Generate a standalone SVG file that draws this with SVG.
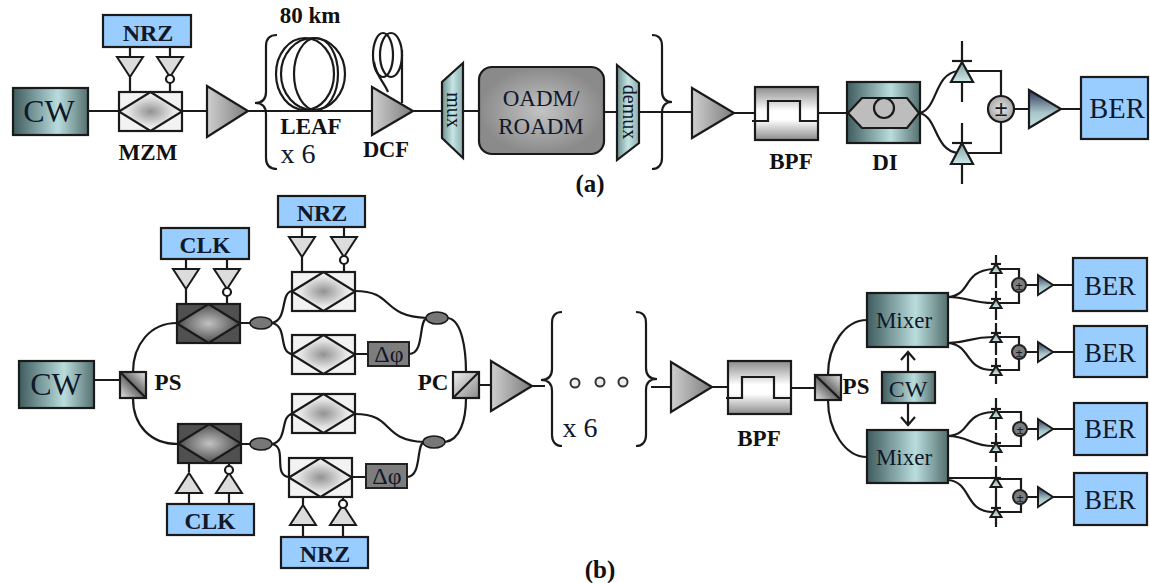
<svg xmlns="http://www.w3.org/2000/svg" xmlns:xlink="http://www.w3.org/1999/xlink" width="1150" height="583" viewBox="0 0 1150 583">
<style>
.s{stroke:#1a1a1a;stroke-width:2.2;fill:none}
.b{stroke:#1a1a1a;stroke-width:2.2}
.t{font-family:"Liberation Serif","Times New Roman",serif;fill:#10182a;text-anchor:middle}
.bd{font-weight:bold;fill:#111}
.blue{fill:#99ccff;stroke:#1a1a1a;stroke-width:2.2}
.drv{fill:#dcdcdc;stroke:#1a1a1a;stroke-width:2}
.cp{fill:#777;stroke:#1a1a1a;stroke-width:1.5}
.ph{fill:#7d7d7d;stroke:#222;stroke-width:2}
</style>
<defs>
<linearGradient id="gCw" x1="0" y1="0" x2="1" y2="0"><stop offset="0" stop-color="#3f5b5d"/><stop offset=".6" stop-color="#b9dddd"/><stop offset="1" stop-color="#55706f"/></linearGradient>
<radialGradient id="gMzm"><stop offset="0" stop-color="#929292"/><stop offset=".7" stop-color="#e4e4e4"/><stop offset="1" stop-color="#f6f6f6"/></radialGradient>
<radialGradient id="gDark"><stop offset="0" stop-color="#c2c2c2"/><stop offset=".75" stop-color="#6a6a6a"/><stop offset="1" stop-color="#484848"/></radialGradient>
<linearGradient id="gAmp" x1="0" y1="0" x2="1" y2="0"><stop offset="0" stop-color="#cfcfcf"/><stop offset="1" stop-color="#7c7c7c"/></linearGradient>
<linearGradient id="gBpf" x1="0" y1="0" x2="0" y2="1"><stop offset="0" stop-color="#8c8c8c"/><stop offset=".45" stop-color="#fff"/><stop offset=".62" stop-color="#fff"/><stop offset="1" stop-color="#8c8c8c"/></linearGradient>
<linearGradient id="gPs" x1="1" y1="0" x2="0" y2="1"><stop offset="0" stop-color="#e8e8e8"/><stop offset=".5" stop-color="#666"/><stop offset="1" stop-color="#e8e8e8"/></linearGradient>
<linearGradient id="gPc" x1="0" y1="0" x2="1" y2="1"><stop offset="0" stop-color="#f0f0f0"/><stop offset="1" stop-color="#8a8a8a"/></linearGradient>
<linearGradient id="gTeal" x1="0" y1="0" x2="1" y2="0"><stop offset="0" stop-color="#6e9090"/><stop offset=".5" stop-color="#c5e4e4"/><stop offset="1" stop-color="#8fb0b0"/></linearGradient>
<linearGradient id="gPd" x1="0" y1="0" x2="0" y2="1"><stop offset="0" stop-color="#7f9fa0"/><stop offset="1" stop-color="#cfe8e8"/></linearGradient>
<linearGradient id="gSmall" x1="0" y1="0" x2="0" y2="1"><stop offset="0" stop-color="#2a3358"/><stop offset=".6" stop-color="#a9c6ca"/><stop offset="1" stop-color="#c6e2e2"/></linearGradient>
<radialGradient id="gOadm"><stop offset="0" stop-color="#c4c4c4"/><stop offset="1" stop-color="#8a8a8a"/></radialGradient>
<radialGradient id="gSum"><stop offset="0" stop-color="#e4e4e4"/><stop offset="1" stop-color="#a8a8a8"/></radialGradient>
<g id="mz"><rect x="0" y="0" width="63" height="39" fill="#f2f2f2" stroke="#1a1a1a" stroke-width="2.2"/><polygon points="0,19.5 31.5,0 63,19.5 31.5,39" fill="url(#gMzm)" stroke="#1a1a1a" stroke-width="2.2"/></g>
<g id="mzd"><rect x="0" y="0" width="63" height="39" fill="#505050" stroke="#1a1a1a" stroke-width="2.2"/><polygon points="0,19.5 31.5,0 63,19.5 31.5,39" fill="url(#gDark)" stroke="#1a1a1a" stroke-width="2.2"/></g>
<polygon id="dDown" points="-13,0 13,0 0,20" class="drv"/>
<polygon id="dUp" points="-13,0 13,0 0,-20" class="drv"/>
<g id="pdU"><line x1="-5" x2="5" y1="0" y2="0" class="s"/><polygon points="0,0 -5.5,9 5.5,9" fill="url(#gPd)" stroke="#1a1a1a" stroke-width="2"/></g>
<polygon id="samp" points="0,-10 15,0 0,10" fill="url(#gSmall)" stroke="#1a1a1a" stroke-width="2"/>
</defs>
<rect width="1150" height="583" fill="#fff"/>

<g id="connectors">
<path class="s" d="M88,111H119M182,111H207M248,111H372M413,111H442M463,111H479M604,112H617M639,112H692M734,113H755M818,113H847M1014,109H1029M1061,109H1081"/>
<path class="s" d="M130,47V57M130,76V92M170,47V57M170,83V92"/>
<path class="s" d="M920,113C938,108 934,74 958,71M920,113C938,118 934,150 958,153"/>
<path class="s" d="M966,71H1001V96M966,153H1001V122"/>
<path class="s" d="M962,41V62M962,82V102M962,123V143M962,164V184"/>
<path class="s" d="M94,380H120M133,372C133,345 150,323 177,323M133,398C133,425 150,444 178,444"/>
<path class="s" d="M186,259V269M186,289V304M227,259V269M227,296V304M189,463V472M189,493V504M229,463V466M229,493V504"/>
<path class="s" d="M240,323H250M241,444H251"/>
<path class="s" d="M272,323C288,320 280,293 292,291M272,323C288,326 278,352 292,354"/>
<path class="s" d="M272,444C288,441 280,416 292,414M272,444C288,447 272,475 289,477"/>
<path class="s" d="M302,227V237M302,257V272M344,227V237M344,264V272M303,497V505M303,525V537M343,497V500M343,525V537"/>
<path class="s" d="M355,291C395,291 380,316 427,318M355,354H368M409,354C425,354 418,320 427,318M448,318C462,320 466,350 466,372"/>
<path class="s" d="M355,414C395,414 380,440 424,442M352,477H366M407,477C422,477 416,444 424,442M445,442C460,440 466,420 466,398"/>
<path class="s" d="M479,385H491M532,386H545M651,387H671M712,387H728M791,388H815"/>
<path class="s" d="M828,375C828,345 845,320 867,320M828,400C828,430 845,457 867,457"/>
<path class="s" d="M908,372V353M901,360L908,352L915,360M908,403V425M901,417L908,425L915,417"/>
<path class="s" d="M948,297C972,295 962,271 993,269M948,297C968,297 972,303 993,303"/>
<path class="s" d="M948,343C968,343 970,337 993,337M948,343C972,345 964,370 993,370"/>
<path class="s" d="M948,436C972,434 962,414 993,412M948,436C968,436 972,446 993,446"/>
<path class="s" d="M948,478H993M948,480C972,482 964,512 993,512"/>
<path class="s" d="M996,255V288M996,291V320M996,323V355M996,358V384M996,398V430M996,433V462M996,466V527"/>
<path class="s" d="M998,269H1019V303H998M998,337H1019V370H998M998,412H1021V446H998M998,479H1021V512H998"/>
<path class="s" d="M1026,285H1038M1053,285H1073M1026,352H1038M1053,352H1074M1027,429H1038M1053,429H1074M1027,497H1038M1053,497H1074"/>
</g>

<g id="cw-a"><rect x="13" y="88" width="75" height="47" fill="url(#gCw)" class="b"/><text class="t" x="49" y="122" font-size="32">CW</text></g>
<g id="nrz-a"><rect x="103" y="15" width="88" height="32" class="blue"/><text class="t" x="148" y="41" font-size="24" font-weight="bold">NRZ</text></g>
<g id="drivers-a"><use xlink:href="#dDown" x="130" y="57"/><use xlink:href="#dDown" x="170" y="57"/><circle cx="170" cy="79" r="4" fill="#fff" class="b"/></g>
<g id="mzm-a"><use xlink:href="#mz" x="119" y="92"/><text class="t bd" x="148" y="160" font-size="23">MZM</text></g>
<g id="amp-a1"><polygon points="207,86 248,111 207,137" fill="url(#gAmp)" class="b"/></g>
<g id="brace-a-left"><path class="s" d="M277,35C270,35 266,38 266,46V92C266,99 262,103 255,103C262,103 266,107 266,114V158C266,165 270,169 277,169"/></g>
<g id="leaf"><ellipse cx="305" cy="74" rx="29" ry="36" class="s"/><ellipse cx="313" cy="74" rx="32" ry="36" class="s"/><ellipse cx="316" cy="74" rx="22" ry="36" class="s"/>
<text class="t bd" x="310" y="23" font-size="23">80 km</text><text class="t bd" x="311" y="134" font-size="23">LEAF</text><text class="t" x="298" y="163" font-size="28">x 6</text></g>
<g id="dcf"><ellipse cx="383" cy="55" rx="10" ry="22" class="s"/><ellipse cx="391" cy="55" rx="11" ry="22" class="s"/><path class="s" d="M374,62C376,76 384,82 388,92M402,50V103"/>
<polygon points="372,87 413,111 372,135" fill="url(#gAmp)" class="b"/><text class="t bd" x="386" y="157" font-size="22.500">DCF</text></g>
<g id="mux"><polygon points="463,63 442,82 442,138 463,158" fill="url(#gTeal)" class="b"/><text class="t" transform="translate(447,110) rotate(90)" font-size="20">mux</text></g>
<g id="oadm"><rect x="479" y="67" width="125" height="87" rx="13" fill="url(#gOadm)" class="b"/><text class="t" x="541" y="106" font-size="23">OADM/</text><text class="t" x="541" y="134" font-size="23">ROADM</text></g>
<g id="demux"><polygon points="617,65 639,83 639,143 617,160" fill="url(#gTeal)" class="b"/><text class="t" transform="translate(623,112) rotate(90)" font-size="20">demux</text></g>
<g id="brace-a-right"><path class="s" d="M652,35C658,35 662,38 662,46V91C662,98 665,102 672,102C665,102 662,106 662,113V158C662,165 658,169 652,169"/></g>
<g id="amp-a2"><polygon points="692,88 734,113 692,138" fill="url(#gAmp)" class="b"/></g>
<g id="bpf-a"><rect x="755" y="87" width="63" height="53" fill="url(#gBpf)" class="b"/><path class="s" d="M752,121H768V101H800V121H818"/><text class="t bd" x="791" y="169" font-size="23">BPF</text></g>
<g id="di"><rect x="847" y="82" width="73" height="61" fill="url(#gCw)" class="b"/><polygon points="848,113 862,98 907,98 919,113 907,128 862,128" fill="#bdbdbd" class="b"/><circle cx="884" cy="108" r="10" fill="#bdbdbd" class="b"/><text class="t bd" x="885" y="170" font-size="23">DI</text></g>
<g id="pd-a1"><line x1="952" x2="972" y1="61" y2="61" class="s"/><polygon points="962,62 951,82 973,82" fill="url(#gPd)" class="b"/></g>
<g id="pd-a2"><line x1="952" x2="972" y1="143" y2="143" class="s"/><polygon points="962,143 951,164 973,164" fill="url(#gPd)" class="b"/></g>
<g id="sum-a"><circle cx="1001" cy="109" r="13" fill="url(#gSum)" class="b"/><text class="t" x="1001" y="116" font-size="24" font-weight="bold">±</text></g>
<g id="amp-a3"><polygon points="1029,90 1061,109 1029,128" fill="url(#gSmall)" class="b"/></g>
<g id="ber-a"><rect x="1081" y="77" width="67" height="62" class="blue"/><text class="t" x="1117" y="118" font-size="28.500">BER</text></g>
<text class="t bd" x="590" y="192" font-size="25">(a)</text>

<g id="cw-b"><rect x="19" y="361" width="75" height="47" fill="url(#gCw)" class="b"/><text class="t" x="56" y="395" font-size="32">CW</text></g>
<g id="ps-b1"><rect x="120" y="372" width="26" height="26" fill="url(#gPs)" class="b"/><line x1="120" y1="372" x2="146" y2="398" class="s"/><text class="t bd" x="168" y="390" font-size="23">PS</text></g>
<g id="clk-top"><rect x="161" y="228" width="88" height="31" class="blue"/><text class="t" x="205" y="253" font-size="23.500" font-weight="bold">CLK</text><use xlink:href="#dDown" x="186" y="269"/><use xlink:href="#dDown" x="227" y="269"/><circle cx="227" cy="292" r="4" fill="#fff" class="b"/></g>
<g id="clk-mod-top"><use xlink:href="#mzd" x="177" y="304"/></g>
<g id="nrz-top"><rect x="278" y="196" width="87" height="31" class="blue"/><text class="t" x="322" y="221" font-size="24" font-weight="bold">NRZ</text><use xlink:href="#dDown" x="302" y="237"/><use xlink:href="#dDown" x="344" y="237"/><circle cx="344" cy="260" r="4" fill="#fff" class="b"/></g>
<g id="mz-1"><use xlink:href="#mz" x="292" y="272"/></g>
<g id="mz-2"><use xlink:href="#mz" x="292" y="335"/></g>
<g id="phase-1"><rect x="368" y="342" width="41" height="24" class="ph"/><text class="t" x="389" y="362" font-size="24">Δφ</text></g>
<ellipse id="coupler-1" cx="261" cy="323" rx="11" ry="6" class="cp"/>
<ellipse id="coupler-2" cx="437" cy="318" rx="11" ry="6" class="cp"/>
<g id="clk-mod-bottom"><use xlink:href="#mzd" x="178" y="424"/></g>
<ellipse id="coupler-3" cx="261" cy="444" rx="11" ry="6" class="cp"/>
<ellipse id="coupler-4" cx="434" cy="442" rx="11" ry="6" class="cp"/>
<g id="mz-3"><use xlink:href="#mz" x="292" y="394"/></g>
<g id="mz-4"><use xlink:href="#mz" x="289" y="458"/></g>
<g id="phase-2"><rect x="366" y="464" width="41" height="24" class="ph"/><text class="t" x="387" y="484" font-size="24">Δφ</text></g>
<g id="clk-bottom"><rect x="167" y="504" width="87" height="31" class="blue"/><text class="t" x="210" y="529" font-size="23.500" font-weight="bold">CLK</text><use xlink:href="#dUp" x="189" y="493"/><use xlink:href="#dUp" x="229" y="493"/><circle cx="229" cy="470" r="4" fill="#fff" class="b"/></g>
<g id="nrz-bottom"><rect x="281" y="537" width="87" height="31" class="blue"/><text class="t" x="325" y="562" font-size="24" font-weight="bold">NRZ</text><use xlink:href="#dUp" x="303" y="525"/><use xlink:href="#dUp" x="343" y="525"/><circle cx="343" cy="504" r="4" fill="#fff" class="b"/></g>
<g id="pc"><rect x="453" y="372" width="26" height="26" fill="url(#gPc)" class="b"/><line x1="453" y1="398" x2="479" y2="372" class="s"/><text class="t bd" x="433" y="390" font-size="23">PC</text></g>
<g id="amp-b1"><polygon points="491,361 532,386 491,411" fill="url(#gAmp)" class="b"/></g>
<g id="brace-b-left"><path class="s" d="M562,312C556,312 552,315 552,323V369C552,376 548,380 541,380C548,380 552,384 552,391V435C552,442 556,446 562,446"/></g>
<g id="dots"><circle cx="575" cy="383" r="4.500" fill="#eee" stroke="#333" stroke-width="2"/><circle cx="600" cy="382" r="4.500" fill="#eee" stroke="#333" stroke-width="2"/><circle cx="623" cy="382" r="4.500" fill="#eee" stroke="#333" stroke-width="2"/></g>
<text class="t" x="580" y="437" font-size="28">x 6</text>
<g id="brace-b-right"><path class="s" d="M636,312C642,312 646,315 646,323V368C646,375 650,379 657,379C650,379 646,383 646,390V435C646,442 642,446 636,446"/></g>
<g id="amp-b2"><polygon points="671,362 712,387 671,412" fill="url(#gAmp)" class="b"/></g>
<g id="bpf-b"><rect x="728" y="361" width="63" height="53" fill="url(#gBpf)" class="b"/><path class="s" d="M726,398H742V377H774V398H791"/><text class="t bd" x="759" y="446" font-size="23">BPF</text></g>
<g id="ps-b2"><rect x="815" y="375" width="26" height="25" fill="url(#gPs)" class="b"/><line x1="815" y1="375" x2="841" y2="400" class="s"/><text class="t bd" x="856" y="394" font-size="23">PS</text></g>
<g id="mixer-top"><rect x="867" y="293" width="81" height="54" fill="url(#gCw)" class="b"/><text class="t" x="904" y="328" font-size="23">Mixer</text></g>
<g id="cw-small"><rect x="882" y="372" width="53" height="31" fill="url(#gCw)" class="b"/><text class="t" x="908" y="397" font-size="24">CW</text></g>
<g id="mixer-bottom"><rect x="867" y="430" width="81" height="53" fill="url(#gCw)" class="b"/><text class="t" x="904" y="465" font-size="23">Mixer</text></g>

<g id="rx-1"><use xlink:href="#pdU" x="996" y="264"/><use xlink:href="#pdU" x="996" y="299"/><circle cx="1019" cy="285" r="7" class="ph"/><text class="t" x="1019" y="290" font-size="13" font-weight="bold">±</text><use xlink:href="#samp" x="1038" y="285"/></g>
<g id="ber-1"><rect x="1073" y="258" width="74" height="53" class="blue"/><text class="t" x="1110" y="295" font-size="26.500">BER</text></g>
<g id="rx-2"><use xlink:href="#pdU" x="996" y="333"/><use xlink:href="#pdU" x="996" y="366"/><circle cx="1019" cy="352" r="7" class="ph"/><text class="t" x="1019" y="357" font-size="13" font-weight="bold">±</text><use xlink:href="#samp" x="1038" y="352"/></g>
<g id="ber-2"><rect x="1074" y="326" width="73" height="51" class="blue"/><text class="t" x="1110" y="362" font-size="26.500">BER</text></g>
<g id="rx-3"><use xlink:href="#pdU" x="996" y="409"/><use xlink:href="#pdU" x="996" y="443"/><circle cx="1020" cy="429" r="7" class="ph"/><text class="t" x="1020" y="434" font-size="13" font-weight="bold">±</text><use xlink:href="#samp" x="1038" y="429"/></g>
<g id="ber-3"><rect x="1074" y="403" width="73" height="52" class="blue"/><text class="t" x="1110" y="438" font-size="26.500">BER</text></g>
<g id="rx-4"><use xlink:href="#pdU" x="996" y="478"/><use xlink:href="#pdU" x="996" y="508"/><circle cx="1020" cy="497" r="7" class="ph"/><text class="t" x="1020" y="502" font-size="13" font-weight="bold">±</text><use xlink:href="#samp" x="1038" y="497"/></g>
<g id="ber-4"><rect x="1074" y="473" width="73" height="52" class="blue"/><text class="t" x="1110" y="509" font-size="26.500">BER</text></g>
<text class="t bd" x="600" y="578" font-size="25">(b)</text>
</svg>
